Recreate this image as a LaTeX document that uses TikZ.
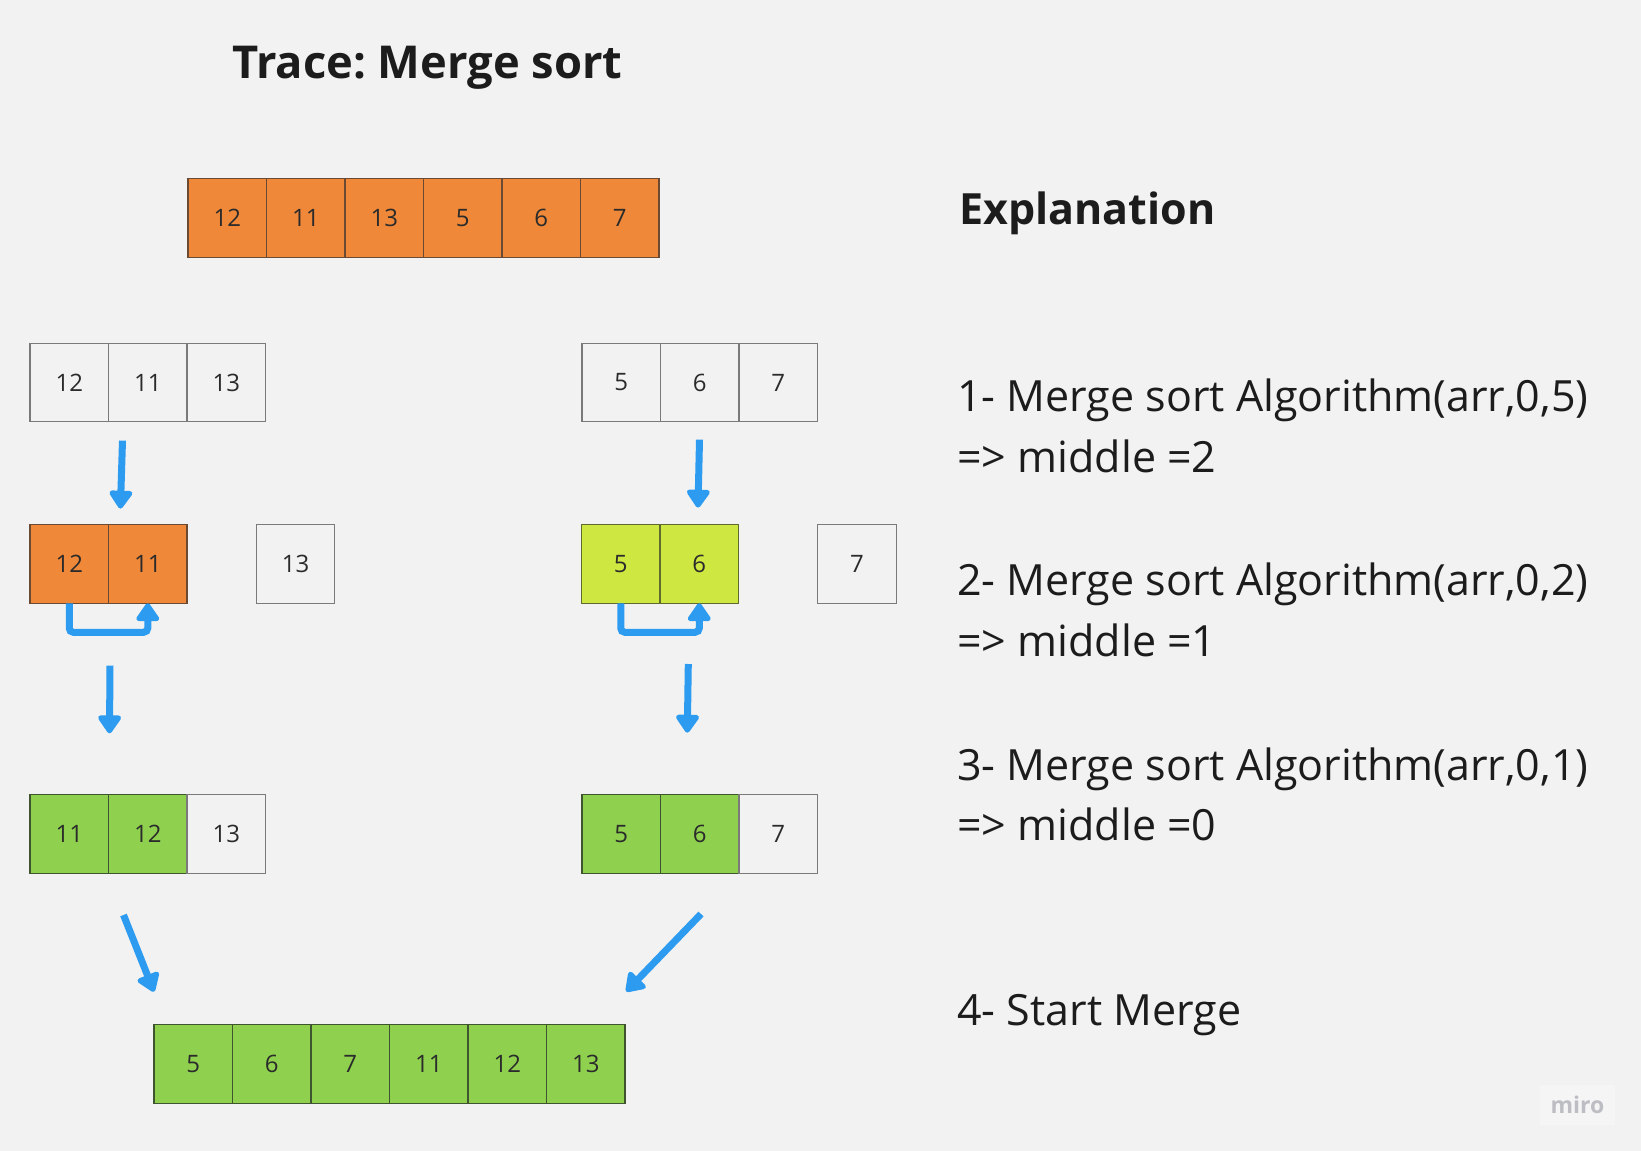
\documentclass[tikz,border=0pt]{standalone}
\usepackage{fontspec}
\setmainfont{Open Sans}
\usetikzlibrary{arrows.meta,positioning}
\frenchspacing

\begin{document}
\begin{tikzpicture}[x=1pt,y=-1pt,
  cell/.style={draw=lineGray, line width=1.3pt, fill=bgGray, minimum width=78.5pt,
    minimum height=78.5pt, inner sep=0pt, outer sep=0pt,
    font=\fontsize{24}{28}\selectfont, text=numGray},
  orangeCell/.style={cell, fill=colOrange, draw=lineOrange},
  limeCell/.style={cell, fill=colLime, draw=lineLime},
  greenCell/.style={cell, fill=colGreen, draw=lineGreen},
  blueArrow/.style={draw=colArrow, line width=7pt, -{Triangle[width=26pt,length=20pt,round]}},
  expl/.style={anchor=base west, inner sep=0pt, font=\fontsize{43}{52}\selectfont, text=textDark}
]

% Colori
\definecolor{bgGray}{HTML}{F2F2F2}
\definecolor{lineGray}{HTML}{7A7A7A}
\definecolor{numGray}{HTML}{2B2B2B}
\definecolor{textDark}{HTML}{1C1C1C}
\definecolor{colOrange}{HTML}{EF8838}
\definecolor{lineOrange}{HTML}{6A4A32}
\definecolor{colLime}{HTML}{CEE741}
\definecolor{lineLime}{HTML}{5E6A2E}
\definecolor{colGreen}{HTML}{8FD14F}
\definecolor{lineGreen}{HTML}{3E5530}
\definecolor{colArrow}{HTML}{2D9BF0}
\definecolor{miroGray}{HTML}{BDBDC4}
\definecolor{miroBox}{HTML}{F5F5F5}

% Sfondo
\fill[bgGray] (0,0) rectangle (1641,1151);
\useasboundingbox (0,0) rectangle (1641,1151);

% Titolo
\node[anchor=base west, inner sep=0pt, font=\fontsize{45.3}{54}\selectfont\bfseries, text=textDark]
  (title) at (232,78) {Trace: Merge sort};

% Array iniziale
\node[orangeCell] (t1) at (227.25,218) {12};
\node[orangeCell, right=0pt of t1] (t2) {11};
\node[orangeCell, right=0pt of t2] (t3) {13};
\node[orangeCell, right=0pt of t3] (t4) {5};
\node[orangeCell, right=0pt of t4] (t5) {6};
\node[orangeCell, right=0pt of t5] (t6) {7};

% Prima divisione
\node[cell] (l1) at (69.25,382.5) {12};
\node[cell, right=0pt of l1] (l2) {11};
\node[cell, right=0pt of l2] (l3) {13};
\node[cell] (r1) at (621.25,382.5) {5};
\node[cell, right=0pt of r1] (r2) {6};
\node[cell, right=0pt of r2] (r3) {7};

% Seconda divisione
\node[orangeCell] (la) at (69.25,564) {12};
\node[orangeCell, right=0pt of la] (lb) {11};
\node[cell] (lc) at (295.5,564) {13};
\node[limeCell] (ra) at (620.75,564) {5};
\node[limeCell, right=0pt of ra] (rb) {6};
\node[cell] (rc) at (857,564) {7};

% Dopo lo scambio
\node[greenCell] (lx) at (69.25,834) {11};
\node[greenCell, right=0pt of lx] (ly) {12};
\node[cell, right=0pt of ly] (lz) {13};
\node[greenCell] (rx) at (621.25,834) {5};
\node[greenCell, right=0pt of rx] (ry) {6};
\node[cell, right=0pt of ry] (rz) {7};

% Array ordinato
\node[greenCell] (m1) at (193.25,1064) {5};
\node[greenCell, right=0pt of m1] (m2) {6};
\node[greenCell, right=0pt of m2] (m3) {7};
\node[greenCell, right=0pt of m3] (m4) {11};
\node[greenCell, right=0pt of m4] (m5) {12};
\node[greenCell, right=0pt of m5] (m6) {13};

% Estremi delle frecce
\coordinate (dl1s) at (122.5,440.6);
\coordinate (dl1e) at (120.4,508.6);
\coordinate (dr1s) at (699.5,439.6);
\coordinate (dr1e) at (698,507.6);
\coordinate (dl2s) at (110,665.7);
\coordinate (dl2e) at (109.5,733.3);
\coordinate (dr2s) at (688.3,664);
\coordinate (dr2e) at (687.3,732.7);
\coordinate (gls) at (123.5,915);
\coordinate (gle) at (154,991.7);
\coordinate (grs) at (701,914);
\coordinate (gre) at (626.2,991.5);

% Frecce
\draw[blueArrow] (dl1s) -- (dl1e);
\draw[blueArrow] (dr1s) -- (dr1e);
\draw[blueArrow, rounded corners=4pt] (la.south) -- ++(0,29) -| (lb.south);
\draw[blueArrow, rounded corners=4pt] (ra.south) -- ++(0,29) -| (rb.south);
\draw[blueArrow] (dl2s) -- (dl2e);
\draw[blueArrow] (dr2s) -- (dr2e);
\draw[blueArrow] (gls) -- (gle);
\draw[blueArrow] (grs) -- (gre);

% Spiegazione
\node[expl, font=\fontsize{43}{52}\selectfont\bfseries] (expTitle) at (959,224) {Explanation};
\node[expl] (s1a) at (957,411) {1- Merge sort Algorithm(arr,0,5)};
\node[expl] (s1b) at (957,472) {=> middle =2};
\node[expl] (s2a) at (957,595) {2- Merge sort Algorithm(arr,0,2)};
\node[expl] (s2b) at (957,656) {=> middle =1};
\node[expl] (s3a) at (957,780) {3- Merge sort Algorithm(arr,0,1)};
\node[expl] (s3b) at (957,840.5) {=> middle =0};
\node[expl] (s4a) at (957,1025) {4- Start Merge};

% Marchio
\node[fill=miroBox, minimum width=75pt, minimum height=40pt,
  inner sep=0pt, font=\fontsize{23}{24}\selectfont\bfseries, text=miroGray] (logo) at (1577.5,1105) {miro};

\end{tikzpicture}
\end{document}
